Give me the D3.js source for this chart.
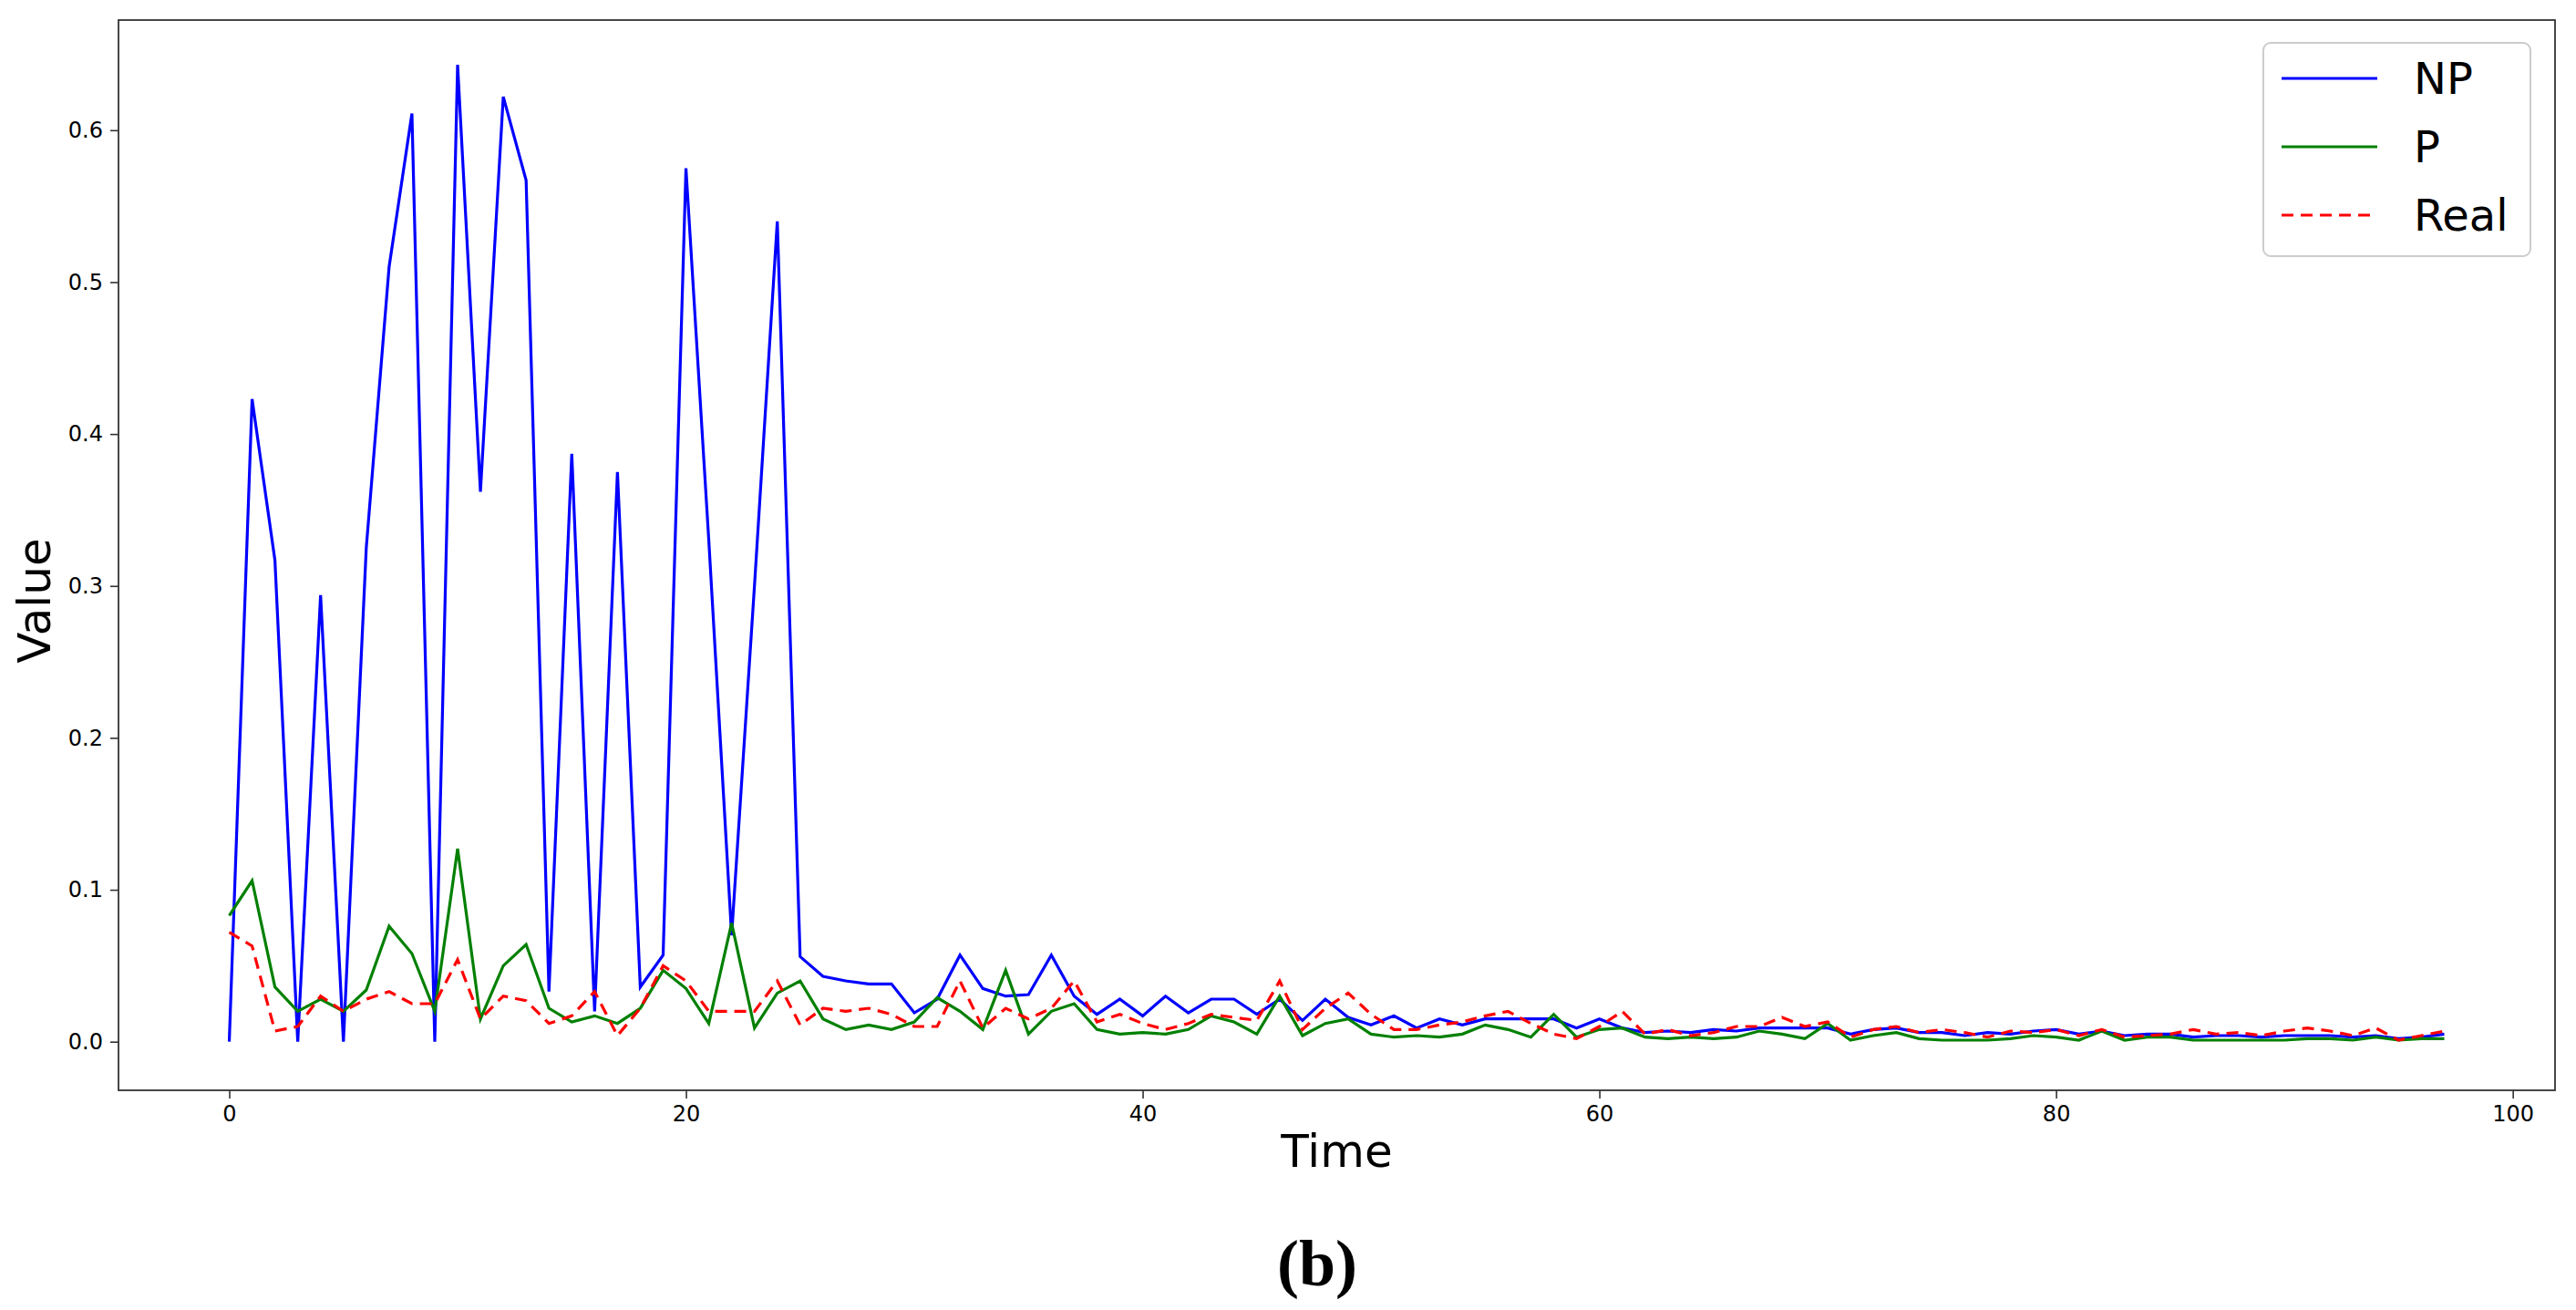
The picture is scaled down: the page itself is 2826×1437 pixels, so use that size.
<!DOCTYPE html>
<html><head><meta charset="utf-8">
<script src="https://cdn.jsdelivr.net/npm/d3@7"></script>
<style>body{margin:0;background:#fff}</style></head>
<body><svg id="c" width="2826" height="1437"></svg>
<script>
const npValues=[0,0.423,0.317,0,0.294,0,0.325,0.51,0.611,0,0.643,0.362,0.622,0.567,0.033,0.387,0.02,0.375,0.036,0.057,0.575,0.33,0.07,0.3,0.54,0.056,0.043,0.04,0.038,0.038,0.019,0.028,0.057,0.035,0.03,0.031,0.057,0.03,0.018,0.028,0.017,0.03,0.019,0.028,0.028,0.018,0.028,0.014,0.028,0.016,0.011,0.017,0.009,0.015,0.011,0.015,0.015,0.015,0.015,0.009,0.015,0.009,0.006,0.007,0.006,0.008,0.007,0.009,0.009,0.009,0.009,0.005,0.008,0.009,0.006,0.006,0.004,0.006,0.005,0.007,0.008,0.005,0.007,0.004,0.005,0.005,0.003,0.004,0.004,0.003,0.004,0.004,0.004,0.003,0.004,0.002,0.003,0.005];
const pValues=[0.083,0.106,0.036,0.02,0.028,0.02,0.034,0.076,0.058,0.02,0.127,0.015,0.05,0.064,0.022,0.013,0.017,0.012,0.022,0.047,0.035,0.012,0.078,0.009,0.032,0.04,0.015,0.008,0.011,0.008,0.013,0.029,0.02,0.008,0.047,0.005,0.02,0.025,0.008,0.005,0.006,0.005,0.008,0.017,0.013,0.005,0.03,0.004,0.012,0.015,0.005,0.003,0.004,0.003,0.005,0.011,0.008,0.003,0.018,0.003,0.008,0.009,0.003,0.002,0.003,0.002,0.003,0.007,0.005,0.002,0.012,0.001,0.004,0.006,0.002,0.001,0.001,0.001,0.002,0.004,0.003,0.001,0.007,0.001,0.003,0.003,0.001,0.001,0.001,0.001,0.001,0.002,0.002,0.001,0.003,0.001,0.002,0.002];
const realValues=[0.072,0.063,0.007,0.01,0.03,0.02,0.028,0.033,0.025,0.025,0.054,0.015,0.03,0.027,0.012,0.017,0.033,0.004,0.022,0.05,0.04,0.02,0.02,0.02,0.04,0.011,0.022,0.02,0.022,0.018,0.01,0.01,0.04,0.009,0.022,0.015,0.022,0.04,0.013,0.018,0.012,0.008,0.012,0.018,0.016,0.014,0.04,0.008,0.022,0.032,0.018,0.008,0.008,0.011,0.013,0.017,0.02,0.012,0.005,0.002,0.01,0.02,0.005,0.008,0.004,0.006,0.01,0.01,0.016,0.01,0.013,0.003,0.008,0.01,0.006,0.008,0.006,0.003,0.007,0.006,0.008,0.004,0.008,0.003,0.004,0.005,0.008,0.005,0.006,0.004,0.007,0.009,0.007,0.004,0.009,0.001,0.004,0.007];
const xTicks=[0,20,40,60,80,100];
const yTicks=[0,0.1,0.2,0.3,0.4,0.5,0.6];
const seriesNames=["NP","P","Real"];
const colors=["#0000ff","#008000","#ff0000"];

const svg=d3.select("#c");
const L=130,R=2803,T=22,B=1196;
const x=d3.scaleLinear().domain([-4.85,101.85]).range([L,R]);
const y=d3.scaleLinear().domain([-0.032,0.6725]).range([B,T]);
const font="DejaVu Sans, sans-serif";

const xa=svg.append("g").attr("transform",`translate(0,${B})`).call(d3.axisBottom(x).tickValues(xTicks).tickFormat(d3.format("d")).tickSize(9).tickPadding(8));
const ya=svg.append("g").attr("transform",`translate(${L},0)`).call(d3.axisLeft(y).tickValues(yTicks).tickFormat(d3.format(".1f")).tickSize(9).tickPadding(8));
[xa,ya].forEach(a=>{a.selectAll("text").attr("font-size",24).attr("font-family",font).attr("fill","#000");a.select(".domain").remove();a.selectAll("line").attr("stroke","#333").attr("stroke-width",1.6);});
svg.append("rect").attr("x",L).attr("y",T).attr("width",R-L).attr("height",B-T).attr("fill","none").attr("stroke","#333").attr("stroke-width",1.8);

const data=[npValues,pValues,realValues];
const line=d3.line().x((d,i)=>x(i)).y(d=>y(d));
data.forEach((s,k)=>{
  svg.append("path").datum(s).attr("d",line).attr("fill","none").attr("stroke",colors[k]).attr("stroke-width",3.2)
    .attr("stroke-dasharray",k==2?"13,8":null).attr("stroke-linejoin","miter");
});

svg.append("text").attr("x",(L+R)/2).attr("y",1280).attr("text-anchor","middle").attr("font-size",50).attr("font-family",font).text("Time");
svg.append("text").attr("transform",`translate(55,${(T+B)/2+50}) rotate(-90)`).attr("text-anchor","middle").attr("font-size",50).attr("font-family",font).text("Value");
svg.append("text").attr("x",1445).attr("y",1410).attr("text-anchor","middle").attr("font-size",72).attr("font-weight","bold").attr("font-family","Liberation Serif, serif").text("(b)");

const lg=svg.append("g");
lg.append("rect").attr("x",2483).attr("y",47).attr("width",293).attr("height",234).attr("rx",8).attr("fill","#fff").attr("stroke","#ccc").attr("stroke-width",2);
seriesNames.forEach((n,k)=>{
  const yy=86+k*75;
  lg.append("line").attr("x1",2503).attr("x2",2608).attr("y1",yy).attr("y2",yy).attr("stroke",colors[k]).attr("stroke-width",3.2).attr("stroke-dasharray",k==2?"13,8":null);
  lg.append("text").attr("x",2648).attr("y",yy+17).attr("font-size",48).attr("font-family",font).text(n);
});
</script></body></html>
